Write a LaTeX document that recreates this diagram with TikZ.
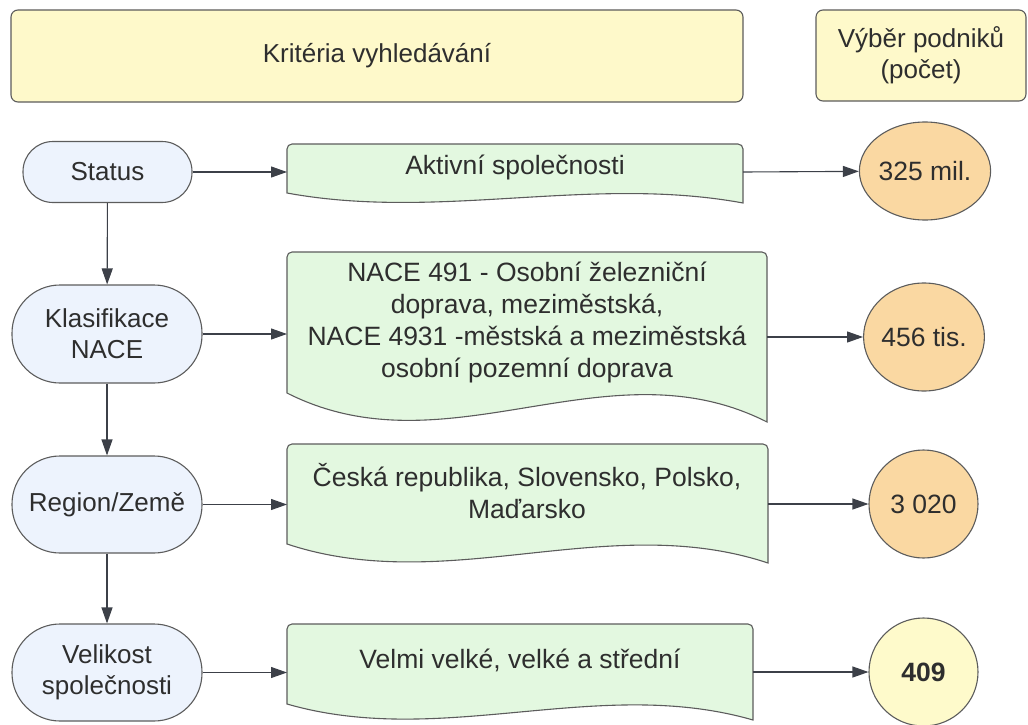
\documentclass[tikz,border=0pt]{standalone}
\usepackage{fontspec}
\setmainfont{Liberation Sans}
\usetikzlibrary{arrows.meta,shapes.geometric}
\definecolor{hdrfill}{HTML}{FEF9CA}
\definecolor{pillfill}{HTML}{EDF3FD}
\definecolor{docfill}{HTML}{E3F8E0}
\definecolor{cntfill}{HTML}{FAD8A2}
\definecolor{finfill}{HTML}{FEFACB}
\definecolor{edge}{HTML}{5C5C5C}
\definecolor{ink}{HTML}{2E2E2E}
\definecolor{wire}{HTML}{3C4048}

% document shape: name, left, right, top, bottom-left y, bottom-right y
\newcommand\docbox[6]{%
  \pgfmathsetmacro\dbw{#3-#2}%
  \pgfmathsetmacro\dbh{#6-#5}%
  \pgfmathsetmacro\dbxa{#2+2*\dbw/3}%
  \pgfmathsetmacro\dbxb{#2+\dbw/3}%
  \pgfmathsetmacro\dbya{#5-1.8*\dbh}%
  \pgfmathsetmacro\dbyb{#5+2.8*\dbh}%
  \pgfmathsetmacro\dbtl{#4+5}%
  \pgfmathsetmacro\dbtr{#3-5}%
  \path[docsty] (#2,#5) -- (#2,\dbtl) arc[start angle=180,end angle=270,radius=5]
    -- (\dbtr,#4) arc[start angle=270,end angle=360,radius=5]
    -- (#3,#6) .. controls (\dbxa,\dbya) and (\dbxb,\dbyb) .. (#2,#5) -- cycle;
}

\begin{document}
\begin{tikzpicture}[x=1pt,y=-1pt,
  font=\fontsize{26}{31}\selectfont,
  every node/.style={text=ink},
  hdr/.style={draw=edge, fill=hdrfill, rounded corners=7pt, line width=1.1pt, inner sep=0pt, align=center},
  pill/.style={draw=edge, fill=pillfill, line width=1.1pt, inner sep=0pt, align=center},
  docsty/.style={draw=edge, fill=docfill, line width=1.1pt},
  doctext/.style={inner sep=0pt, align=center, font=\fontsize{26.5}{32}\selectfont},
  cnt/.style={ellipse, draw=edge, fill=cntfill, line width=1.1pt, inner sep=0pt, font=\fontsize{26.5}{32}\selectfont},
  conn/.style={draw=wire, line width=1.1pt, -{Triangle[length=16pt,width=11pt]}}
]
\useasboundingbox (0,0) rectangle (1028,725);

% column headers
\node[hdr, minimum width=732, minimum height=92] (h1) at (377,56) {Kritéria vyhledávání};
\node[hdr, minimum width=210, minimum height=91] (h2) at (921,55.5) {\fontsize{26}{27}\selectfont Výběr podniků\\(počet)};

% criteria
\node[pill, rounded corners=30pt, minimum width=169, minimum height=61] (s1) at (107.5,172) {Status};
\node[pill, rounded corners=48pt, minimum width=190, minimum height=98] (s2) at (107,334) {Klasifikace\\NACE};
\node[pill, rounded corners=48pt, minimum width=190, minimum height=97] (s3) at (107,504.5) {Region/Země};
\node[pill, rounded corners=48pt, minimum width=190, minimum height=97] (s4) at (107,672.5) {Velikost\\společnosti};

% filter values
\docbox{d1}{287}{743}{144}{193}{203}
\node[doctext] (t1) at (515,167) {Aktivní společnosti};
\coordinate (d1in) at (287,172);
\coordinate (d1out) at (743,172);

\docbox{d2}{287}{767}{252}{393}{422}
\node[doctext] (t2) at (527,322) {NACE 491 - Osobní železniční\\doprava, meziměstská,\\NACE 4931 -městská a meziměstská\\osobní pozemní doprava};
\coordinate (d2in) at (287,334);
\coordinate (d2out) at (767,337);

\docbox{d3}{287}{768}{444}{544}{563}
\node[doctext] (t3) at (527,491) {Česká republika, Slovensko, Polsko,\\Maďarsko};
\coordinate (d3in) at (287,504.5);
\coordinate (d3out) at (768,504);

\docbox{d4}{287}{753}{624}{704}{720}
\node[doctext] (t4) at (520,660) {Velmi velké, velké a střední};
\coordinate (d4in) at (287,672.5);
\coordinate (d4out) at (753,672);

% counts
\node[cnt, minimum width=120, minimum height=98] (c1) at (925,171) {325 mil.};
\node[cnt, minimum width=120, minimum height=108] (c2) at (924,337) {456 tis.};
\node[cnt, minimum width=109, minimum height=108] (c3) at (923.5,504) {3 020};
\node[cnt, fill=finfill, minimum width=109, minimum height=108] (c4) at (923.5,672) {\bfseries 409};

% connectors
\draw[conn] (s1) -- (s2);
\draw[conn] (s2) -- (s3);
\draw[conn] (s3) -- (s4);
\draw[conn] (s1) -- (d1in);
\draw[conn] (s2) -- (d2in);
\draw[conn] (s3) -- (d3in);
\draw[conn] (s4) -- (d4in);
\draw[conn] (d1out) -- (c1);
\draw[conn] (d2out) -- (c2);
\draw[conn] (d3out) -- (c3);
\draw[conn] (d4out) -- (c4);
\end{tikzpicture}
\end{document}
